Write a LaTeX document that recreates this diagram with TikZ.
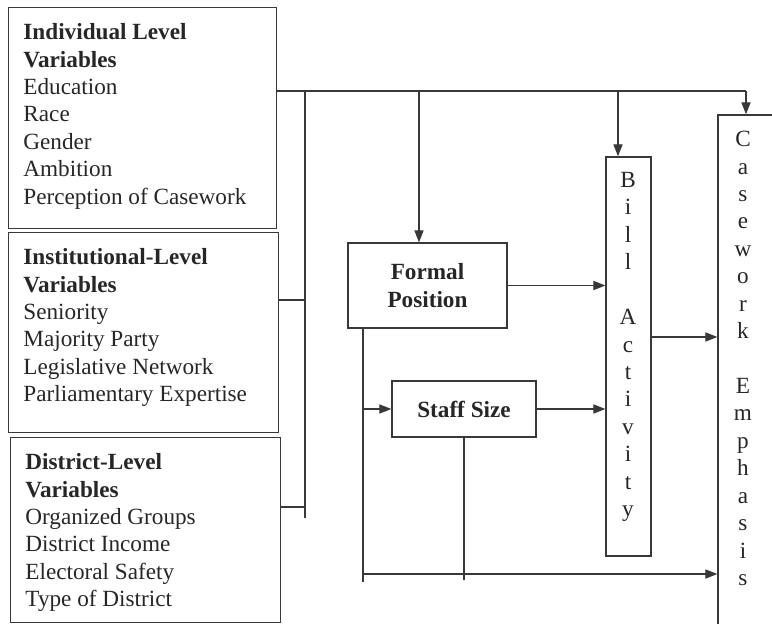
\documentclass[tikz,border=0pt]{standalone}
\usepackage{fontspec}
\setmainfont{Liberation Serif}
\usepackage{tikz}
\usetikzlibrary{arrows.meta,positioning,calc}
\definecolor{inkgray}{HTML}{383838}
\tikzstyle{arrow} = [-{Triangle[length=8.5pt,width=6.5pt]}, line width=0.8pt, draw=inkgray]
\tikzstyle{link} = [line width=0.8pt, draw=inkgray]
\tikzstyle{varbox} = [draw=inkgray, line width=0.9pt, anchor=north west, inner xsep=0.37cm, inner ysep=0.4cm]
\tikzstyle{midbox} = [draw=inkgray, line width=0.9pt, font=\varfont\bfseries, align=center]
\newcommand{\varfont}{\fontsize{16.5}{19.5}\selectfont}

\begin{document}
\begin{tikzpicture}[x=0.025cm, y=-0.025cm, every node/.style={font=\varfont, text=black!85}]
    \useasboundingbox (0,0) rectangle (772,624);

    % Variable blocks
    \node[varbox] (indiv) at (8,7) {\parbox[t][4.725cm][t]{5.96cm}{\textbf{Individual Level}\\ \textbf{Variables}\\ Education\\ Race\\ Gender\\ Ambition\\ Perception of Casework}};
    \node[varbox] (inst) at (8,232) {\parbox[t][4.2cm][t]{6.01cm}{\textbf{Institutional-Level}\\ \textbf{Variables}\\ Seniority\\ Majority Party\\ Legislative Network\\ Parliamentary Expertise}};
    \node[varbox] (dist) at (10,437) {\parbox[t][3.825cm][t]{6.01cm}{\textbf{District-Level}\\ \textbf{Variables}\\ Organized Groups\\ District Income\\ Electoral Safety\\ Type of District}};

    % Intermediate boxes
    \node[midbox, minimum width=3.975cm, minimum height=2.125cm] (fp) at (427.5,285.5) {Formal\\Position};
    \node[midbox, minimum width=3.6cm, minimum height=1.4cm] (ss) at (464,409) {Staff Size};

    % Bill activity
    \node[draw=inkgray, line width=0.9pt, minimum width=1.125cm, minimum height=9.975cm] (bill) at (628.5,356.5) {};
    \node[align=center] (billtext) at (628,347) {B\\i\\l\\l\\[19.5pt]A\\c\\t\\i\\v\\i\\t\\y};

    % Casework emphasis
    \node[draw=inkgray, line width=0.9pt, minimum width=1.55cm, minimum height=13.125cm] (case) at (749,377.5) {};
    \node[align=center] (casetext) at (743,358.5) {C\\a\\s\\e\\w\\o\\r\\k\\[19.5pt]E\\m\\p\\h\\a\\s\\i\\s};

    % Junctions
    \coordinate (jL) at (305,91);
    \coordinate (jFP) at (419,91);
    \coordinate (jB) at (618,91);
    \coordinate (jC) at (746,91);
    \coordinate (j2) at (305,300);
    \coordinate (j3) at (305,507);
    \coordinate (jLend) at (305,518);
    \coordinate (jBC) at (651,337);
    \coordinate (jF) at (363,574);

    % Top bus
    \draw[link] (indiv.east |- jC) -- (jC);
    \draw[arrow] (jC) -- (jC |- case.north);
    \draw[link] (jL) -- (jLend);
    \draw[link] (inst.east |- j2) -- (j2);
    \draw[link] (dist.east |- j3) -- (j3);
    \draw[arrow] (jFP) -- (jFP |- fp.north);
    \draw[arrow] (jB) -- (jB |- bill.north);

    % Into bill activity and casework
    \draw[arrow] (fp.east) -- (fp.east -| bill.west);
    \draw[arrow] (ss.east) -- (ss.east -| bill.west);
    \draw[arrow] (bill.east |- jBC) -- (case.west |- jBC);

    % Lower paths
    \draw[link] (jF |- fp.south) -- ($(jF)+(0,8)$);
    \draw[arrow] (jF |- ss.west) -- (ss.west);
    \draw[arrow] (jF) -- (jF -| case.west);
    \draw[link] (ss.south) -- ($(ss.south |- jF)+(0,6)$);
\end{tikzpicture}
\end{document}
